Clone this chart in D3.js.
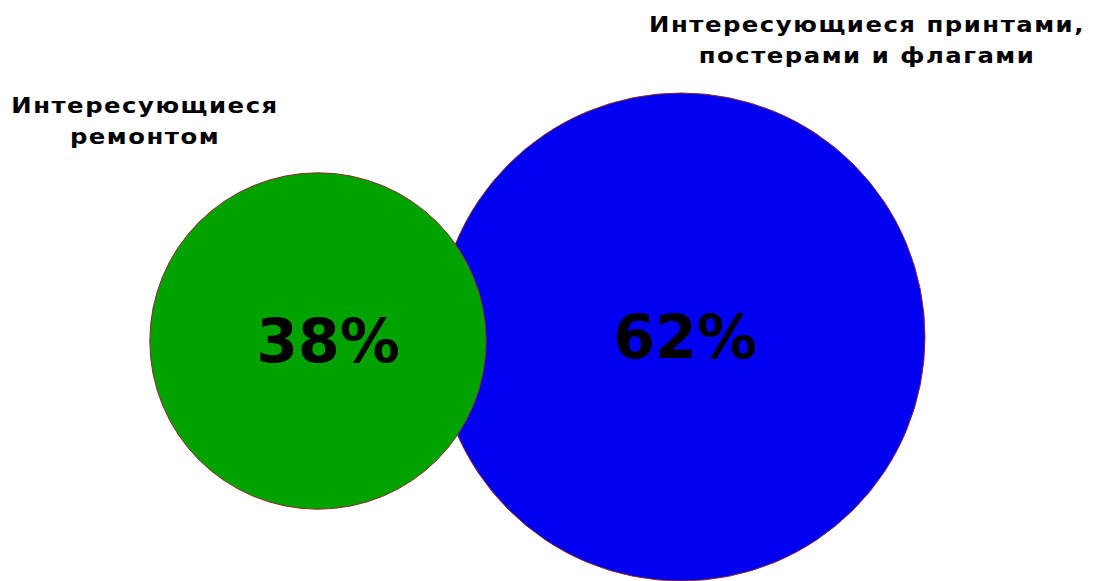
<!DOCTYPE html>
<html>
<head>
<meta charset="utf-8">
<script src="https://cdn.jsdelivr.net/npm/d3@7"></script>
<style>
  html, body { margin: 0; padding: 0; background: #fff; }
  svg { display: block; }
  text { font-family: "DejaVu Sans", sans-serif; font-weight: bold; fill: #000; }
</style>
</head>
<body>
<svg id="chart" width="1094" height="581"></svg>
<script>
// Audience groups and their shares
const groups = ["repair", "prints"];
const shares = [38, 62];
const labelLines = [
  ["Интересующиеся", "ремонтом"],
  ["Интересующиеся принтами,", "постерами и флагами"]
];
const fills = ["#00a200", "#0000f0"];

const svg = d3.select("#chart");

// Circle size grows with the share
const radius = d3.scalePow().exponent(0.76).domain([0, 62]).range([0, 244]);

// Horizontal placement of the two circles
const xPos = d3.scalePoint().domain(groups).range([318, 681]);
const cy = [341, 337];

const data = groups.map((g, i) => ({
  key: g, value: shares[i], lines: labelLines[i], fill: fills[i], cy: cy[i]
}));

// Larger circle first so the smaller one sits on top
const order = data.slice().sort((a, b) => b.value - a.value);

svg.selectAll("circle.bubble")
  .data(order)
  .join("circle")
  .attr("class", "bubble")
  .attr("cx", d => xPos(d.key))
  .attr("cy", d => d.cy)
  .attr("r", d => radius(d.value))
  .attr("fill", d => d.fill)
  .attr("stroke", "#8a2a2a")
  .attr("stroke-width", 1);

// Percentages inside the circles
svg.selectAll("text.pct")
  .data(data)
  .join("text")
  .attr("class", "pct")
  .attr("x", d => xPos(d.key) + (d.key === "repair" ? 10 : 4))
  .attr("y", d => d.cy + 21)
  .attr("text-anchor", "middle")
  .attr("font-size", 60)
  .text(d => d.value + "%");

// Group titles above the circles (slightly widened lettering)
const titlePos = { repair: { x: 145, y: 113 }, prints: { x: 867, y: 32 } };
data.forEach(d => {
  const p = titlePos[d.key];
  const t = svg.append("g")
    .attr("transform", `translate(${p.x},${p.y}) scale(1.16,1)`)
    .append("text")
    .attr("class", "title")
    .attr("text-anchor", "middle")
    .attr("font-size", 21)
    .attr("letter-spacing", 1.3);
  d.lines.forEach((line, j) => {
    t.append("tspan")
      .attr("x", 0)
      .attr("dy", j === 0 ? 0 : 31)
      .text(line);
  });
});
</script>
</body>
</html>
